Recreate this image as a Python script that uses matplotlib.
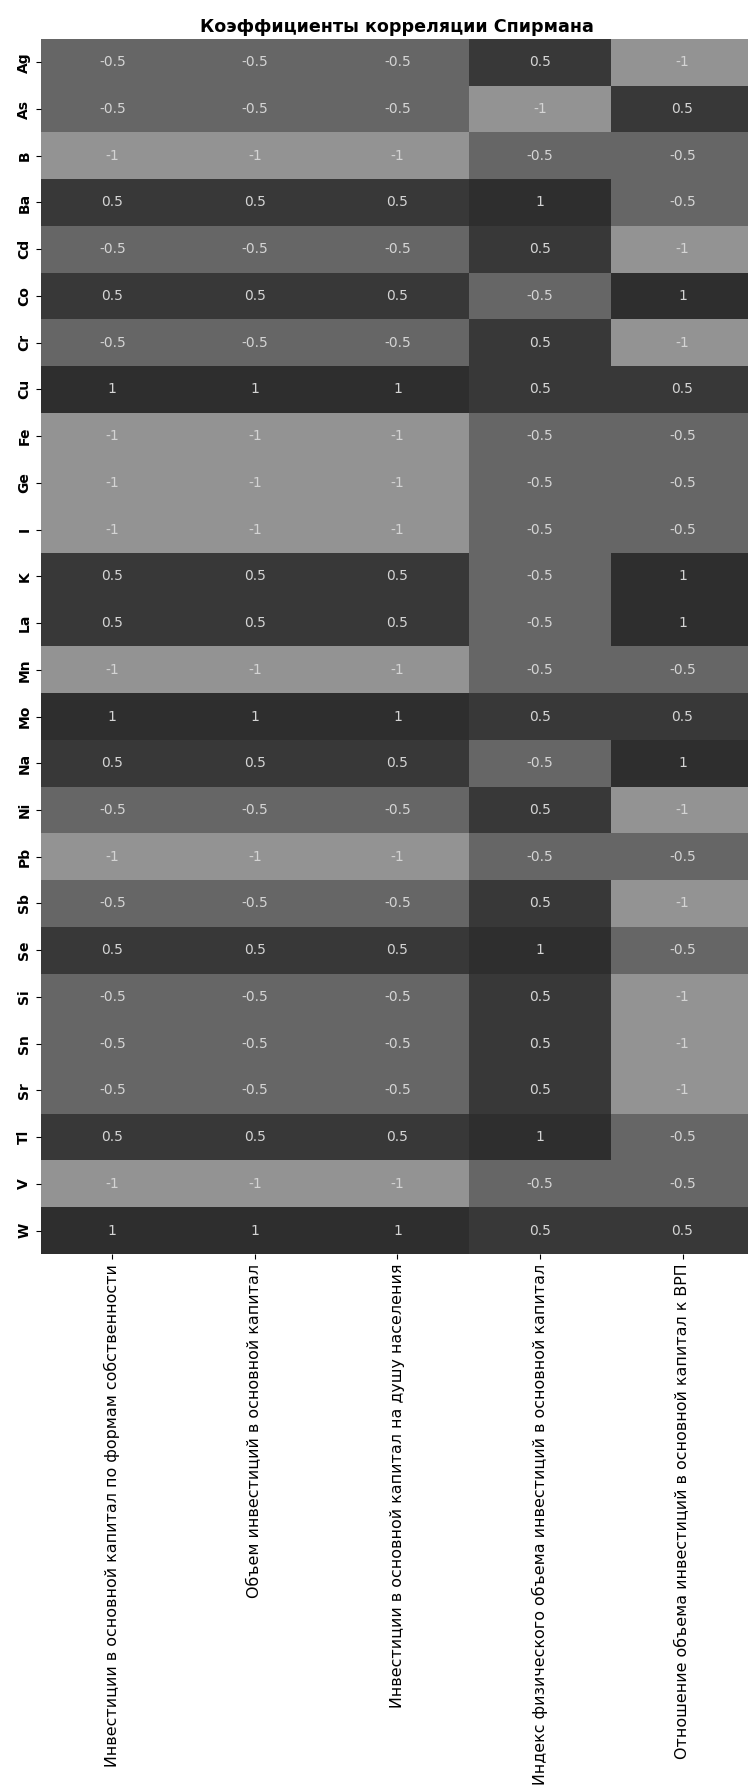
import numpy as np
import matplotlib
matplotlib.use('Agg')
from matplotlib import pyplot as plt
from matplotlib.colors import ListedColormap, BoundaryNorm
import seaborn as sns

elements = ['Ag', 'As', 'B', 'Ba', 'Cd', 'Co', 'Cr', 'Cu', 'Fe', 'Ge', 'I', 'K', 'La',
            'Mn', 'Mo', 'Na', 'Ni', 'Pb', 'Sb', 'Se', 'Si', 'Sn', 'Sr', 'Tl', 'V', 'W']
indicators = [
    'Инвестиции в основной капитал по формам собственности',
    'Объем инвестиций в основной капитал',
    'Инвестиции в основной капитал на душу населения',
    'Индекс физического объема инвестиций в основной капитал',
    'Отношение объема инвестиций в основной капитал к ВРП',
]
# first three indicators share the same coefficients
col_invest = [-0.5, -0.5, -1, 0.5, -0.5, 0.5, -0.5, 1, -1, -1, -1, 0.5, 0.5,
              -1, 1, 0.5, -0.5, -1, -0.5, 0.5, -0.5, -0.5, -0.5, 0.5, -1, 1]
col_index = [0.5, -1, -0.5, 1, 0.5, -0.5, 0.5, 0.5, -0.5, -0.5, -0.5, -0.5, -0.5,
             -0.5, 0.5, -0.5, 0.5, -0.5, 0.5, 1, 0.5, 0.5, 0.5, 1, -0.5, 0.5]
col_vrp = [-1, 0.5, -0.5, -0.5, -1, 1, -1, 0.5, -0.5, -0.5, -0.5, 1, 1,
           -0.5, 0.5, 1, -1, -0.5, -1, -0.5, -1, -1, -1, -0.5, -0.5, 0.5]

data = np.column_stack([col_invest, col_invest, col_invest, col_index, col_vrp])

cmap = ListedColormap(['#939393', '#666666', '#383838', '#2e2e2e'])
norm = BoundaryNorm([-1.5, -0.75, 0, 0.75, 1.5], cmap.N)

plt.rcParams['font.family'] = ['DejaVu Sans']

fig = plt.figure(figsize=(7.48, 17.86), dpi=100)
ax = fig.add_axes([0.0548, 0.2979, 0.953, 0.6803])
sns.heatmap(data, ax=ax, cmap=cmap, norm=norm, cbar=False, annot=True, fmt='g',
            annot_kws={'fontsize': 10, 'color': '#d4d4d4'},
            xticklabels=indicators, yticklabels=elements)
ax.set_title('Коэффициенты корреляции Спирмана', fontsize=12.6, fontweight='bold', pad=5)
ax.set_xticklabels(indicators, rotation=90, fontsize=11.4)
ax.set_yticklabels(elements, rotation=90, fontsize=10, fontweight='bold', va='center')
ax.tick_params(length=3.5)

fig.savefig('out.png', dpi=100)
